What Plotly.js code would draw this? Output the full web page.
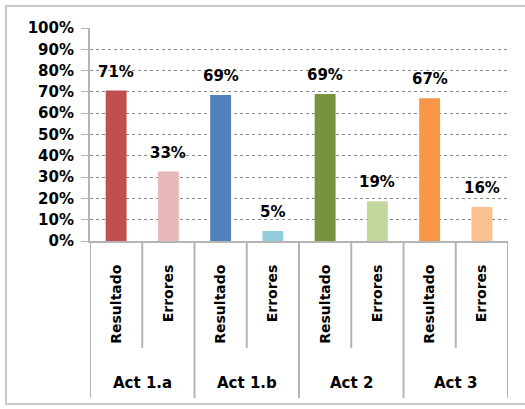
<!DOCTYPE html>
<html>
<head>
<meta charset="utf-8">
<script src="https://cdn.plot.ly/plotly-3.0.1.min.js"></script>
<style>
  html, body { margin: 0; padding: 0; background: #fff; overflow: hidden; }
  #wrap { position: relative; width: 525px; height: 409px; }
  #frame { position: absolute; left: 5px; top: 5px; width: 530px; height: 400px; border: 2px solid #c8c8c8; box-sizing: border-box; pointer-events: none; }
  #chart { position: absolute; left: 0; top: 0; width: 525px; height: 409px; }
</style>
</head>
<body>
<div id="wrap">
  <div id="chart"></div>
  <div id="frame"></div>
</div>
<script>
// Data
const groups = ["Act 1.a", "Act 1.a", "Act 1.b", "Act 1.b", "Act 2", "Act 2", "Act 3", "Act 3"];
const subs = ["Resultado", "Errores", "Resultado", "Errores", "Resultado", "Errores", "Resultado", "Errores"];
const values = [0.706, 0.326, 0.686, 0.047, 0.690, 0.186, 0.670, 0.160];
const colors = ["#C0504D", "#E6B9B8", "#4F81BD", "#93CDDD", "#77933C", "#C3D69B", "#F79646", "#FAC090"];
const groupNames = ["Act 1.a", "Act 1.b", "Act 2", "Act 3"];
const yTickVals = [0, 0.1, 0.2, 0.3, 0.4, 0.5, 0.6, 0.7, 0.8, 0.9, 1.0];

const keys = groups.map((g, i) => g + "|" + subs[i]);
const fontFam = "DejaVu Sans, Verdana, sans-serif";

const trace = {
  type: "bar",
  x: keys,
  y: values,
  marker: { color: colors, line: { width: 0 } },
  width: 0.4,
  hoverinfo: "skip"
};

const annotations = [];
values.forEach((v, i) => {
  annotations.push({
    x: keys[i], y: v, xref: "x", yref: "y",
    text: Math.round(v * 100) + "%",
    showarrow: false, yanchor: "bottom", yshift: 8,
    font: { family: fontFam, size: 15, color: "#000", weight: 700 }
  });
});
groupNames.forEach((g, j) => {
  const idx = groups.indexOf(g);
  annotations.push({
    x: idx + 0.5, y: -0.667, xref: "x", yref: "paper",
    text: g, showarrow: false, yanchor: "middle",
    font: { family: fontFam, size: 15, color: "#000", weight: 700 }
  });
});

const shapes = [];
const lineCol = "#b4b4b4";
// group dividers
for (let j = 0; j <= groupNames.length; j++) {
  const xPos = j * 2 - 0.5;
  shapes.push({ type: "line", xref: "x", yref: "paper", x0: xPos, x1: xPos, y0: 0, y1: -0.737,
    line: { color: lineCol, width: 2 } });
}
// inner dividers
for (let j = 0; j < groupNames.length; j++) {
  const xPos = j * 2 + 0.5;
  shapes.push({ type: "line", xref: "x", yref: "paper", x0: xPos, x1: xPos, y0: 0, y1: -0.502,
    line: { color: lineCol, width: 2 } });
}

const layout = {
  width: 525, height: 409,
  margin: { l: 90, r: 17, t: 28, b: 168 },
  paper_bgcolor: "rgba(0,0,0,0)",
  plot_bgcolor: "rgba(0,0,0,0)",
  showlegend: false,
  xaxis: {
    type: "category",
    tickvals: keys,
    ticktext: subs,
    tickangle: -90,
    ticks: "",
    ticklabelstandoff: 16,
    showgrid: false,
    showline: true, linecolor: lineCol, linewidth: 2,
    tickfont: { family: fontFam, size: 14, color: "#000", weight: 700 },
    range: [-0.5, 7.5],
    fixedrange: true
  },
  yaxis: {
    range: [0, 1],
    tickvals: yTickVals,
    tickformat: ".0%",
    ticks: "outside", ticklen: 7, tickcolor: lineCol, tickwidth: 1,
    ticklabelstandoff: 4,
    showline: true, linecolor: lineCol, linewidth: 2,
    showgrid: true, gridcolor: "#8a8a8a", griddash: "dot", gridwidth: 1,
    zeroline: false,
    tickfont: { family: fontFam, size: 15, color: "#000", weight: 700 },
    fixedrange: true
  },
  annotations: annotations,
  shapes: shapes
};

Plotly.newPlot("chart", [trace], layout, { displayModeBar: false, staticPlot: true });
</script>
</body>
</html>
